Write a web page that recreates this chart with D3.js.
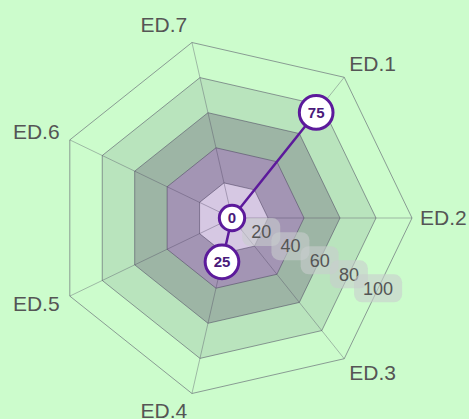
<!DOCTYPE html>
<html lang="en">
  <head>
    <meta charset="utf-8">
    <title>Radar chart</title>
    <script type="text/javascript" src="https://d3js.org/d3.v7.min.js"></script>
    <style type="text/css">
      body { margin: 0; background: #ccfccc; }
      svg { display: block; }
      .axis-label { font-family: "Liberation Sans", Arial, sans-serif; font-size: 21px; fill: #555; }
      .tick-label { font-family: "Liberation Sans", Arial, sans-serif; font-size: 18px; fill: #555; }
      .point-label { font-family: "Liberation Sans", Arial, sans-serif; font-size: 15px; font-weight: bold; fill: #4a1a7a; }
    </style>
  </head>
  <body>
    <script type="text/javascript">
      var w = 469;
      var h = 419;
      var cx = 232;
      var cy = 218;
      var radius = 180;

      // data
      var axes = ["ED.1", "ED.2", "ED.3", "ED.4", "ED.5", "ED.6", "ED.7"];
      var values = [75, 0, null, 25, null, null, null];
      var ticks = [20, 40, 60, 80, 100];
      var bandColors = ["#d6c8e3", "#a395b4", "#9db5a5", "#b9e4bd", "none"];

      var svg = d3.select("body").append("svg").attr("width", w).attr("height", h);

      var rScale = d3.scaleLinear().domain([0, 100]).range([0, radius]);
      var step = 2 * Math.PI / axes.length;

      // angle in math sense (counter-clockwise from 3 o'clock), ED.2 is horizontal
      function angle(i) { return step * (1 - i); }
      function px(i, v) { return cx + rScale(v) * Math.cos(angle(i)); }
      function py(i, v) { return cy - rScale(v) * Math.sin(angle(i)); }

      function ring(v) {
        return axes.map(function(a, i) { return [px(i, v), py(i, v)]; });
      }
      var polyLine = d3.line().curve(d3.curveLinearClosed);

      // bands, outside first
      for (var k = ticks.length - 1; k >= 0; k--) {
        svg.append("path")
          .attr("d", polyLine(ring(ticks[k])))
          .attr("fill", bandColors[k])
          .attr("stroke", "rgba(70,60,90,0.5)")
          .attr("stroke-width", 1);
      }

      // spokes
      svg.selectAll(".spoke")
        .data(axes)
        .enter()
        .append("line")
        .attr("class", "spoke")
        .attr("x1", cx)
        .attr("y1", cy)
        .attr("x2", function(d, i) { return px(i, 100); })
        .attr("y2", function(d, i) { return py(i, 100); })
        .attr("stroke", "rgba(70,60,90,0.35)")
        .attr("stroke-width", 1);

      // axis labels
      svg.selectAll(".axis-label")
        .data(axes)
        .enter()
        .append("text")
        .attr("class", "axis-label")
        .attr("x", function(d, i) {
          var c = Math.cos(angle(i));
          return cx + (radius + 8) * c - (c < 0 ? 3 : 0);
        })
        .attr("y", function(d, i) { return cy - (radius + 18) * Math.sin(angle(i)); })
        .attr("dy", "0.35em")
        .attr("text-anchor", function(d, i) { return Math.cos(angle(i)) < 0 ? "end" : "start"; })
        .text(function(d) { return d; });

      // tick labels along the bisector between ED.2 and ED.3
      var tickAngle = -step / 2;
      var tickG = svg.selectAll(".tick")
        .data(ticks)
        .enter()
        .append("g")
        .attr("class", "tick")
        .attr("transform", function(d) {
          var r = rScale(d) * Math.cos(step / 2);
          return "translate(" + (cx + r * Math.cos(tickAngle)) + "," + (cy - r * Math.sin(tickAngle)) + ")";
        });
      tickG.append("rect");
      tickG.append("text")
        .attr("class", "tick-label")
        .attr("text-anchor", "middle")
        .attr("dy", "0.35em")
        .text(function(d) { return d; });
      tickG.each(function() {
        var g = d3.select(this);
        var tw = g.select("text").node().getComputedTextLength();
        g.select("rect")
          .attr("x", -tw / 2 - 9)
          .attr("y", -14)
          .attr("width", tw + 18)
          .attr("height", 28)
          .attr("rx", 8)
          .attr("fill", "rgba(200,205,205,0.6)");
      });

      // series line through the defined points
      var points = values
        .map(function(v, i) { return { v: v, i: i }; })
        .filter(function(d) { return d.v !== null; });

      svg.append("path")
        .attr("d", d3.line()
          .x(function(d) { return px(d.i, d.v); })
          .y(function(d) { return py(d.i, d.v); })(points))
        .attr("fill", "none")
        .attr("stroke", "#5c1a9b")
        .attr("stroke-width", 2.5);

      var pointG = svg.selectAll(".point")
        .data(points)
        .enter()
        .append("g")
        .attr("class", "point")
        .attr("transform", function(d) { return "translate(" + px(d.i, d.v) + "," + py(d.i, d.v) + ")"; });
      pointG.append("circle");
      pointG.append("text")
        .attr("class", "point-label")
        .attr("text-anchor", "middle")
        .attr("dy", "0.35em")
        .text(function(d) { return d.v; });
      pointG.each(function() {
        var g = d3.select(this);
        var tw = g.select("text").node().getComputedTextLength();
        g.select("circle")
          .attr("r", tw / 2 + 8.5)
          .attr("fill", "white")
          .attr("stroke", "#5c1a9b")
          .attr("stroke-width", 3);
      });
    </script>
  </body>
</html>
